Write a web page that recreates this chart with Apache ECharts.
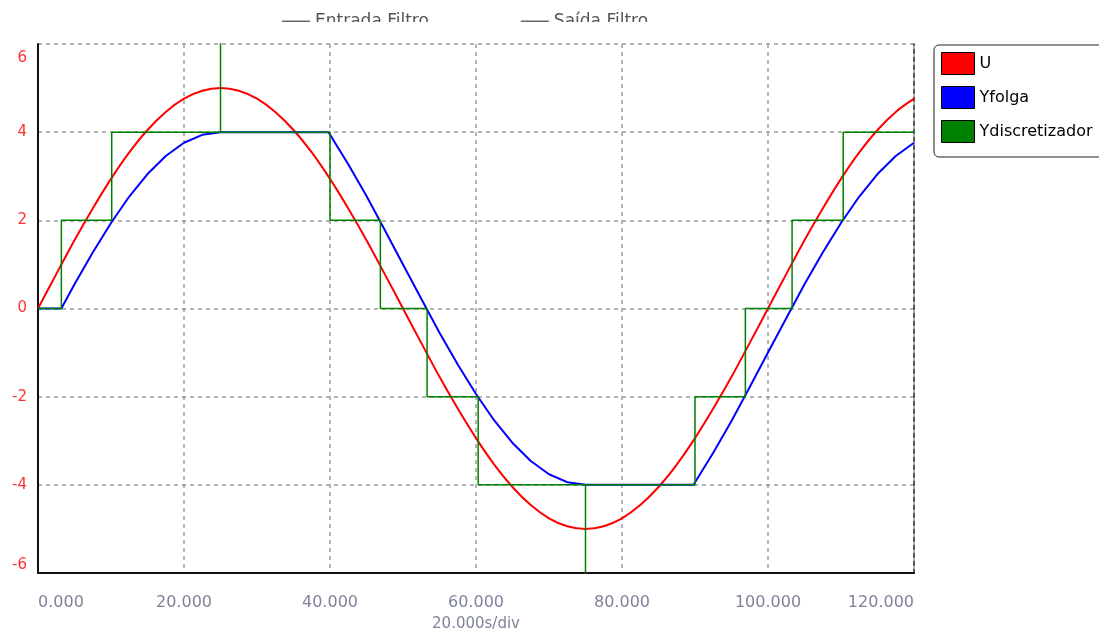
<!DOCTYPE html>
<html><head><meta charset="utf-8">
<script src="https://cdn.jsdelivr.net/npm/echarts@6/dist/echarts.min.js"></script>
<style>html,body{margin:0;padding:0;background:#fff}#c{width:1099px;height:630px}</style>
</head><body><div id="c"></div>
<script>
// Time samples (s) for U
const tU = [0,2.5,5,7.5,10,12.5,15,17.5,20,22.5,25,27.5,30,32.5,35,37.5,40,42.5,45,47.5,50,52.5,55,57.5,60,62.5,65,67.5,70,72.5,75,77.5,80,82.5,85,87.5,90,92.5,95,97.5,100,102.5,105,107.5,110,112.5,115,117.5,120];
const uVals = [0,0.78,1.55,2.27,2.94,3.54,4.05,4.46,4.76,4.94,5.00,4.94,4.76,4.46,4.05,3.54,2.94,2.27,1.55,0.78,0,-0.78,-1.55,-2.27,-2.94,-3.54,-4.05,-4.46,-4.76,-4.94,-5.00,-4.94,-4.76,-4.46,-4.05,-3.54,-2.94,-2.27,-1.55,-0.78,0,0.78,1.55,2.27,2.94,3.54,4.05,4.46,4.76];
// Yfolga (backlash output)
const tFolga = [0,3.2,5,7.5,10,12.5,15,17.5,20,22.5,25,39.8,42.5,45,47.5,50,52.5,55,57.5,60,62.5,65,67.5,70,72.5,75,89.8,92.5,95,97.5,100,102.5,105,107.5,110,112.5,115,117.5,120];
const folgaVals = [0,0,0.55,1.27,1.94,2.54,3.05,3.46,3.76,3.94,4.00,4.00,3.27,2.55,1.78,1.00,0.22,-0.55,-1.27,-1.94,-2.54,-3.05,-3.46,-3.76,-3.94,-4.00,-4.00,-3.27,-2.55,-1.78,-1.00,-0.22,0.55,1.27,1.94,2.54,3.05,3.46,3.76];
// Ydiscretizador (quantized, step pairs)
const tDisc = [0,3.2,3.2,10.1,10.1,25,25,25,40,40,46.9,46.9,53.3,53.3,60.3,60.3,75,75,75,90,90,96.9,96.9,103.3,103.3,110.3,110.3,120];
const discVals = [0,0,2,2,4,4,6.5,4,4,2,2,0,0,-2,-2,-4,-4,-6.5,-4,-4,-2,-2,0,0,2,2,4,4];
const xTicks = [0,20,40,60,80,100,120];
const yTicks = [-6,-4,-2,0,2,4,6];
const seriesNames = ['U','Yfolga','Ydiscretizador'];
const topLegendNames = ['Entrada Filtro','Saída Filtro'];

const zip = (a,b)=>a.map((v,i)=>[v,b[i]]);
const chart = echarts.init(document.getElementById('c'));
const gridDash = {color:'#9a9a9a', type:[4,4], width:1.5};
const yMax = yTicks[yTicks.length-1];
chart.setOption({
  animation:false,
  backgroundColor:'#fff',
  grid:{left:38,right:185,top:44,bottom:57,containLabel:false,outerBoundsMode:'none'},
  legend:[{
    data:topLegendNames, left:282, top:13, padding:0, icon:'rect', itemWidth:28, itemHeight:2, itemGap:92,
    textStyle:{fontFamily:'DejaVu Sans', fontSize:17, color:'#555'}
  },{
    data:seriesNames, orient:'vertical', left:934, top:45, icon:'rect',
    itemWidth:33, itemHeight:22, itemGap:11,
    padding:[7,40,14,7],
    backgroundColor:'#fff', borderColor:'#222', borderWidth:1, borderRadius:5,
    itemStyle:{borderColor:'#000', borderWidth:1},
    textStyle:{fontFamily:'DejaVu Sans', fontSize:16, color:'#000'}
  }],
  graphic:[{type:'rect', shape:{x:250,y:22,width:470,height:20}, style:{fill:'#fff'}, z:100}],
  xAxis:{
    type:'value', min:xTicks[0], max:xTicks[xTicks.length-1], interval:20,
    name:'20.000s/div', nameLocation:'middle', nameGap:44,
    nameTextStyle:{fontFamily:'DejaVu Sans', fontSize:15, color:'#7f8399'},
    axisLine:{onZero:false, lineStyle:{color:'#111', width:2}},
    axisTick:{show:false},
    axisLabel:{margin:22, fontFamily:'DejaVu Sans', fontSize:16, color:'#7f8399',
      alignMinLabel:'left', alignMaxLabel:'right',
      formatter:v=>v.toFixed(3)},
    splitLine:{show:true, lineStyle:gridDash}
  },
  yAxis:[{
    type:'value', min:yTicks[0], max:yMax, interval:2,
    axisLine:{show:true, onZero:false, lineStyle:{color:'#111', width:2}},
    axisTick:{show:false},
    axisLabel:{margin:11, fontFamily:'DejaVu Sans', fontSize:15, color:'#ff3030',
      verticalAlignMaxLabel:'top', verticalAlignMinLabel:'bottom',
      formatter:v=> v===yMax ? '{t|'+v+'}' : String(v),
      rich:{t:{padding:[7,0,0,0], fontFamily:'DejaVu Sans', fontSize:15, color:'#ff3030'}}},
    splitLine:{show:true, lineStyle:gridDash}
  },{
    type:'value', position:'right', min:yTicks[0], max:yMax, interval:2,
    axisLine:{show:true, onZero:false, lineStyle:{color:'#222', type:[4,4], width:1.5}},
    axisTick:{show:false}, axisLabel:{show:false}, splitLine:{show:false}
  }],
  series:[
    {name:'Entrada Filtro', type:'line', data:[], color:'#666'},
    {name:'Saída Filtro', type:'line', data:[], color:'#666'},
    {name:'U', type:'line', data:zip(tU,uVals), showSymbol:false, symbol:'none', smooth:0.3, color:'#ff0000', lineStyle:{width:2}},
    {name:'Yfolga', type:'line', data:zip(tFolga,folgaVals), showSymbol:false, symbol:'none', color:'#0000ff', lineStyle:{width:2}},
    {name:'Ydiscretizador', type:'line', data:zip(tDisc,discVals), showSymbol:false, symbol:'none', color:'#008000', lineStyle:{width:1.5}}
  ]
});
</script></body></html>
